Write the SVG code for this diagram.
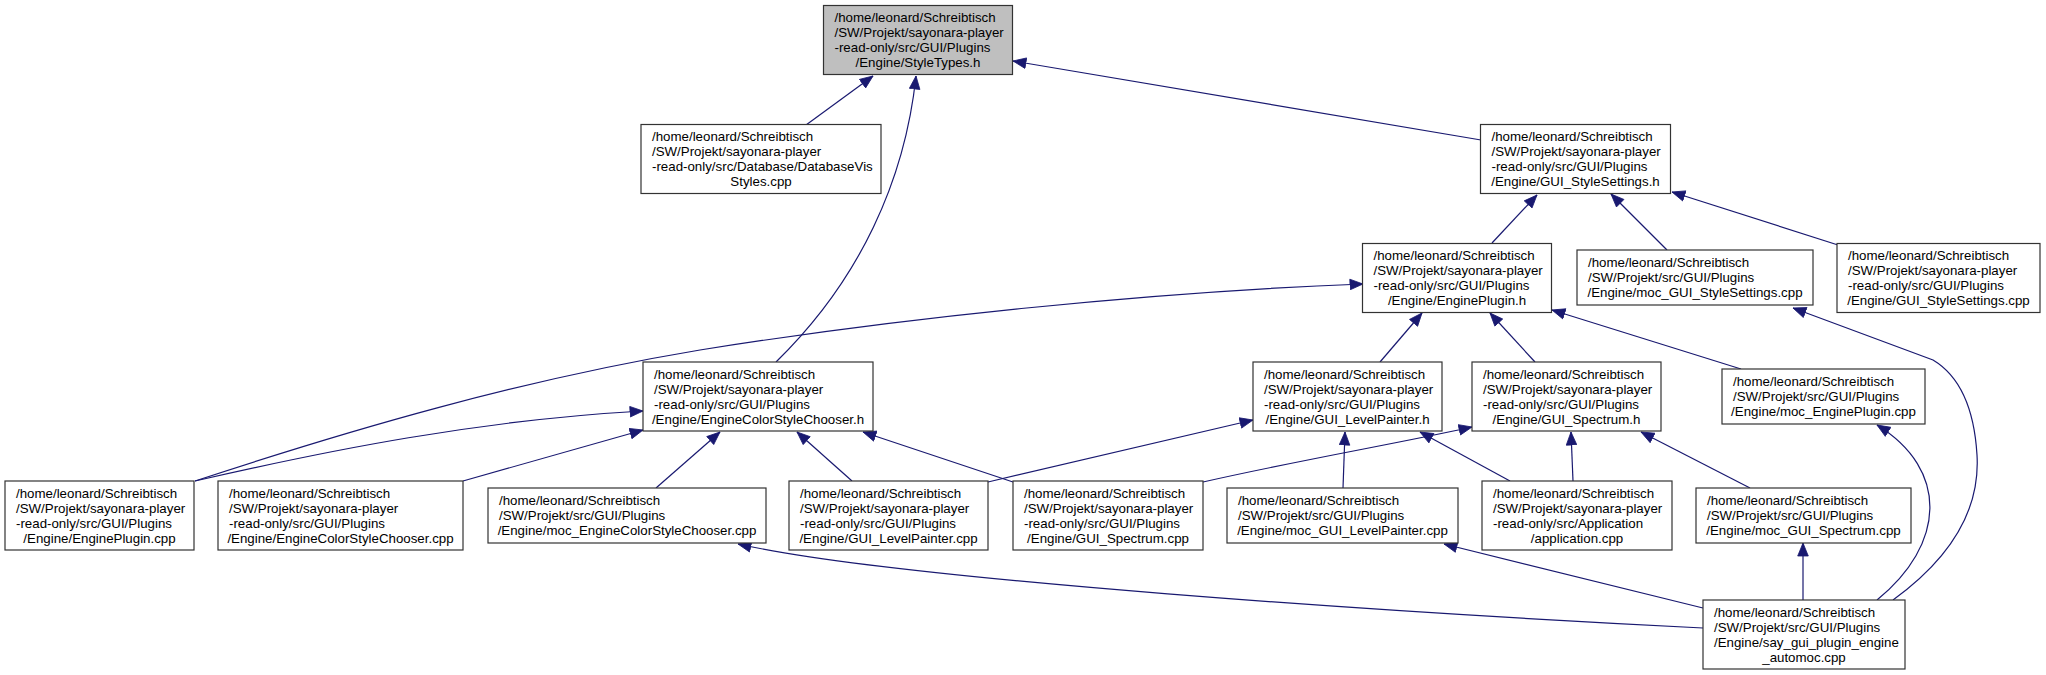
<svg xmlns="http://www.w3.org/2000/svg" width="2046" height="675" viewBox="0 0 2046 675">
<style>
.n rect{fill:#ffffff;stroke:#333333;stroke-width:1.2}
.n.root rect{fill:#bfbfbf}
.n text{font-family:"Liberation Sans",Arial,sans-serif;font-size:13.3px;fill:#000}
.c{text-anchor:middle}
.e path{fill:none;stroke:#191970;stroke-width:1.2}
</style>
<defs>
<marker id="ah" markerUnits="userSpaceOnUse" markerWidth="14" markerHeight="12" viewBox="0 0 14 12" refX="13.5" refY="6" orient="auto">
<path d="M0.5,0.7 L13.5,6 L0.5,11.3 z" fill="#191970" stroke="#191970" stroke-width="0.8"/>
</marker>
</defs>
<rect width="2046" height="675" fill="#ffffff"/>
<g id="edges" class="e">
<path marker-end="url(#ah)" d="M806,125 L873,76"/>
<path marker-end="url(#ah)" d="M776,362 C860,280 905,180 916,76"/>
<path marker-end="url(#ah)" d="M1481,140 L1013,61"/>
<path marker-end="url(#ah)" d="M1492,243 L1537,195"/>
<path marker-end="url(#ah)" d="M1667,250 L1611,194"/>
<path marker-end="url(#ah)" d="M1838,245 L1672,192"/>
<path marker-end="url(#ah)" d="M195,481 C350,430 520,380 700,350 C900,318 1150,292 1363,284"/>
<path marker-end="url(#ah)" d="M195,481 C330,450 480,420 643,411"/>
<path marker-end="url(#ah)" d="M463,481 L643,430"/>
<path marker-end="url(#ah)" d="M656,488 L720,432"/>
<path marker-end="url(#ah)" d="M852,481 L797,432"/>
<path marker-end="url(#ah)" d="M1013,482 L863,432"/>
<path marker-end="url(#ah)" d="M988,482 L1253,420"/>
<path marker-end="url(#ah)" d="M1203,482 C1300,460 1400,443 1472,427"/>
<path marker-end="url(#ah)" d="M1343,488 L1345,432"/>
<path marker-end="url(#ah)" d="M1510,481 L1420,432"/>
<path marker-end="url(#ah)" d="M1573,481 L1571,432"/>
<path marker-end="url(#ah)" d="M1750,488 L1641,432"/>
<path marker-end="url(#ah)" d="M1380,362 L1422,313"/>
<path marker-end="url(#ah)" d="M1535,362 L1490,313"/>
<path marker-end="url(#ah)" d="M1741,369 L1552,310"/>
<path marker-end="url(#ah)" d="M1703,628 C1400,613 900,580 738,544"/>
<path marker-end="url(#ah)" d="M1703,608 L1444,544"/>
<path marker-end="url(#ah)" d="M1803,600 L1803,543"/>
<path marker-end="url(#ah)" d="M1877,600 C1945,545 1950,470 1877,425"/>
<path marker-end="url(#ah)" d="M1893,600 C1955,555 1980,505 1977,455 C1974,405 1958,375 1933,360 L1793,308"/>
</g>
<g id="n0" class="n root"><rect x="823.5" y="5.5" width="189" height="69"/>
<text x="834.5" y="22">/home/leonard/Schreibtisch</text><text x="834.5" y="37">/SW/Projekt/sayonara-player</text><text x="834.5" y="52">-read-only/src/GUI/Plugins</text><text class="c" x="918" y="67">/Engine/StyleTypes.h</text></g>
<g id="n1" class="n"><rect x="641" y="124.5" width="240" height="69"/>
<text x="652" y="141">/home/leonard/Schreibtisch</text><text x="652" y="156">/SW/Projekt/sayonara-player</text><text x="652" y="171">-read-only/src/Database/DatabaseVis</text><text class="c" x="761" y="186">Styles.cpp</text></g>
<g id="n2" class="n"><rect x="1480.5" y="124.5" width="190" height="69"/>
<text x="1491.5" y="141">/home/leonard/Schreibtisch</text><text x="1491.5" y="156">/SW/Projekt/sayonara-player</text><text x="1491.5" y="171">-read-only/src/GUI/Plugins</text><text class="c" x="1575.5" y="186">/Engine/GUI_StyleSettings.h</text></g>
<g id="n3" class="n"><rect x="1362.5" y="243.5" width="189" height="69"/>
<text x="1373.5" y="260">/home/leonard/Schreibtisch</text><text x="1373.5" y="275">/SW/Projekt/sayonara-player</text><text x="1373.5" y="290">-read-only/src/GUI/Plugins</text><text class="c" x="1457" y="305">/Engine/EnginePlugin.h</text></g>
<g id="n4" class="n"><rect x="1577" y="250" width="236" height="55"/>
<text x="1588" y="267">/home/leonard/Schreibtisch</text><text x="1588" y="282">/SW/Projekt/src/GUI/Plugins</text><text class="c" x="1695" y="297">/Engine/moc_GUI_StyleSettings.cpp</text></g>
<g id="n5" class="n"><rect x="1837" y="243.5" width="203" height="69"/>
<text x="1848" y="260">/home/leonard/Schreibtisch</text><text x="1848" y="275">/SW/Projekt/sayonara-player</text><text x="1848" y="290">-read-only/src/GUI/Plugins</text><text class="c" x="1938.5" y="305">/Engine/GUI_StyleSettings.cpp</text></g>
<g id="n6" class="n"><rect x="643" y="362" width="230" height="69"/>
<text x="654" y="378.5">/home/leonard/Schreibtisch</text><text x="654" y="393.5">/SW/Projekt/sayonara-player</text><text x="654" y="408.5">-read-only/src/GUI/Plugins</text><text class="c" x="758" y="423.5">/Engine/EngineColorStyleChooser.h</text></g>
<g id="n7" class="n"><rect x="1253" y="362" width="189" height="69"/>
<text x="1264" y="378.5">/home/leonard/Schreibtisch</text><text x="1264" y="393.5">/SW/Projekt/sayonara-player</text><text x="1264" y="408.5">-read-only/src/GUI/Plugins</text><text class="c" x="1347.5" y="423.5">/Engine/GUI_LevelPainter.h</text></g>
<g id="n8" class="n"><rect x="1472" y="362" width="189" height="69"/>
<text x="1483" y="378.5">/home/leonard/Schreibtisch</text><text x="1483" y="393.5">/SW/Projekt/sayonara-player</text><text x="1483" y="408.5">-read-only/src/GUI/Plugins</text><text class="c" x="1566.5" y="423.5">/Engine/GUI_Spectrum.h</text></g>
<g id="n9" class="n"><rect x="1722" y="369" width="203" height="55"/>
<text x="1733" y="386">/home/leonard/Schreibtisch</text><text x="1733" y="401">/SW/Projekt/src/GUI/Plugins</text><text class="c" x="1823.5" y="416">/Engine/moc_EnginePlugin.cpp</text></g>
<g id="n10" class="n"><rect x="5" y="481" width="189" height="69"/>
<text x="16" y="497.5">/home/leonard/Schreibtisch</text><text x="16" y="512.5">/SW/Projekt/sayonara-player</text><text x="16" y="527.5">-read-only/src/GUI/Plugins</text><text class="c" x="99.5" y="542.5">/Engine/EnginePlugin.cpp</text></g>
<g id="n11" class="n"><rect x="218" y="481" width="245" height="69"/>
<text x="229" y="497.5">/home/leonard/Schreibtisch</text><text x="229" y="512.5">/SW/Projekt/sayonara-player</text><text x="229" y="527.5">-read-only/src/GUI/Plugins</text><text class="c" x="340.5" y="542.5">/Engine/EngineColorStyleChooser.cpp</text></g>
<g id="n12" class="n"><rect x="488" y="488" width="278" height="55"/>
<text x="499" y="505">/home/leonard/Schreibtisch</text><text x="499" y="520">/SW/Projekt/src/GUI/Plugins</text><text class="c" x="627" y="535">/Engine/moc_EngineColorStyleChooser.cpp</text></g>
<g id="n13" class="n"><rect x="789" y="481" width="199" height="69"/>
<text x="800" y="497.5">/home/leonard/Schreibtisch</text><text x="800" y="512.5">/SW/Projekt/sayonara-player</text><text x="800" y="527.5">-read-only/src/GUI/Plugins</text><text class="c" x="888.5" y="542.5">/Engine/GUI_LevelPainter.cpp</text></g>
<g id="n14" class="n"><rect x="1013" y="481" width="190" height="69"/>
<text x="1024" y="497.5">/home/leonard/Schreibtisch</text><text x="1024" y="512.5">/SW/Projekt/sayonara-player</text><text x="1024" y="527.5">-read-only/src/GUI/Plugins</text><text class="c" x="1108" y="542.5">/Engine/GUI_Spectrum.cpp</text></g>
<g id="n15" class="n"><rect x="1227" y="488" width="231" height="55"/>
<text x="1238" y="505">/home/leonard/Schreibtisch</text><text x="1238" y="520">/SW/Projekt/src/GUI/Plugins</text><text class="c" x="1342.5" y="535">/Engine/moc_GUI_LevelPainter.cpp</text></g>
<g id="n16" class="n"><rect x="1482" y="481" width="190" height="69"/>
<text x="1493" y="497.5">/home/leonard/Schreibtisch</text><text x="1493" y="512.5">/SW/Projekt/sayonara-player</text><text x="1493" y="527.5">-read-only/src/Application</text><text class="c" x="1577" y="542.5">/application.cpp</text></g>
<g id="n17" class="n"><rect x="1696" y="488" width="215" height="55"/>
<text x="1707" y="505">/home/leonard/Schreibtisch</text><text x="1707" y="520">/SW/Projekt/src/GUI/Plugins</text><text class="c" x="1803.5" y="535">/Engine/moc_GUI_Spectrum.cpp</text></g>
<g id="n18" class="n"><rect x="1703" y="600" width="202" height="69"/>
<text x="1714" y="616.5">/home/leonard/Schreibtisch</text><text x="1714" y="631.5">/SW/Projekt/src/GUI/Plugins</text><text x="1714" y="646.5">/Engine/say_gui_plugin_engine</text><text class="c" x="1804" y="661.5">_automoc.cpp</text></g>
</svg>
